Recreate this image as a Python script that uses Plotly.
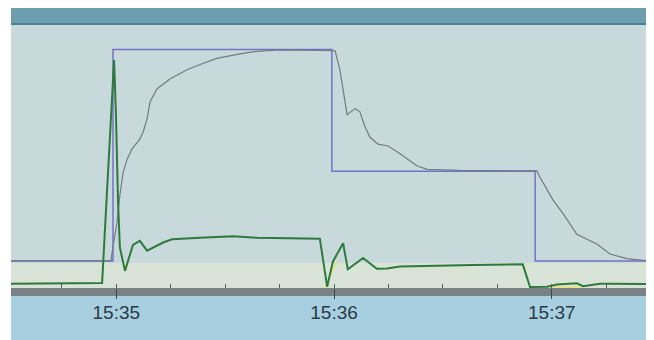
import plotly.graph_objects as go

DAY = "2024-01-01 "

# Setpoint (blue step line)
sp_times = ["15:34:31.0", "15:34:59.1", "15:35:59.4", "15:36:55.4", "15:37:26.5"]
sp_vals = [10.3, 90.7, 44.4, 10.3, 10.3]

# Process value (gray line)
pv_times = ["15:34:31.0", "15:34:58.5", "15:35:00.2", "15:35:01.0", "15:35:01.9", "15:35:03.0",
            "15:35:04.3", "15:35:06.5", "15:35:07.4", "15:35:08.5", "15:35:09.3", "15:35:11.2",
            "15:35:14.8", "15:35:19.5", "15:35:23.1", "15:35:27.7", "15:35:34.1", "15:35:38.8",
            "15:35:45.1", "15:36:00.3", "15:36:01.6", "15:36:02.5", "15:36:03.6", "15:36:05.8",
            "15:36:07.1", "15:36:08.5", "15:36:09.9", "15:36:12.1", "15:36:14.9", "15:36:18.2",
            "15:36:22.8", "15:36:25.6", "15:36:34.7", "15:36:55.9", "15:36:56.7", "15:37:00.3",
            "15:37:03.1", "15:37:06.9", "15:37:09.7", "15:37:12.4", "15:37:16.0", "15:37:20.7",
            "15:37:25.1", "15:37:26.5"]
pv_vals = [10.3, 10.3, 25.0, 35.3, 44.0, 49.0,
           52.8, 56.6, 59.3, 64.3, 70.7, 75.7,
           79.5, 83.0, 85.0, 87.3, 89.0, 90.0,
           90.5, 90.2, 83.0, 75.4, 65.9, 68.2,
           67.1, 61.4, 57.3, 54.7, 54.0, 51.0,
           46.5, 45.1, 44.7, 44.5, 42.2, 33.5,
           28.3, 20.4, 18.5, 16.7, 12.9, 11.2,
           10.5, 10.3]

# Output (green line)
out_times = ["15:34:31.0", "15:34:44.5", "15:34:56.1", "15:34:59.4", "15:34:59.9", "15:35:00.5",
             "15:35:01.0", "15:35:02.4", "15:35:04.6", "15:35:06.5",
             "15:35:08.5", "15:35:12.9", "15:35:15.4", "15:35:23.1", "15:35:32.2", "15:35:38.8",
             "15:35:56.1", "15:35:58.1", "15:35:59.7", "15:36:02.5", "15:36:03.8", "15:36:08.0",
             "15:36:11.8", "15:36:14.6", "15:36:18.2", "15:36:38.3", "15:36:52.0", "15:36:54.0",
             "15:36:58.7", "15:37:01.4", "15:37:04.2", "15:37:06.9", "15:37:08.6", "15:37:13.3",
             "15:37:16.0", "15:37:26.5"]
out_vals = [1.6, 1.8, 1.9, 86.7, 66.6, 32.4,
            15.4, 6.5, 16.4, 17.9,
            14.2, 17.3, 18.5, 19.1, 19.7, 19.1,
            18.7, 0.5, 10.1, 17.0, 7.1, 11.4,
            7.3, 7.4, 8.2, 8.7, 9.0, 0.4,
            0.5, 1.3, 1.7, 1.8, 0.7, 1.6,
            1.6, 1.5]

# Faint yellow series
yel_times = ["15:35:57.5", "15:36:00.8", "15:36:01.0", "15:36:57.0", "15:37:08.0"]
yel_vals = [0.3, 10.1, None, 0.4, 0.4]

tick_vals = ["15:35:00", "15:36:00", "15:37:00"]
tick_text = ["15:35", "15:36", "15:37"]


def ts(lst):
    return [DAY + t for t in lst]


fig = go.Figure()
fig.add_trace(go.Scatter(x=ts(yel_times), y=yel_vals, mode="lines",
                         line=dict(color="#e6e67a", width=1.6), connectgaps=False))
fig.add_trace(go.Scatter(x=ts(sp_times), y=sp_vals, mode="lines", line_shape="hv",
                         line=dict(color="#7273c6", width=1.5)))
fig.add_trace(go.Scatter(x=ts(pv_times), y=pv_vals, mode="lines",
                         line=dict(color="#737a82", width=1.2)))
fig.add_trace(go.Scatter(x=ts(out_times), y=out_vals, mode="lines",
                         line=dict(color="#2e7a3c", width=2)))

H = 263.0
shapes = [
    # light lower band inside plot
    dict(type="rect", xref="paper", yref="y", x0=0, x1=1, y0=0, y1=9.5,
         fillcolor="#d9e3d7", line_width=0, layer="below"),
    # teal top band
    dict(type="rect", xref="paper", yref="paper", x0=0, x1=1, y0=1 + 2 / H, y1=1 + 18 / H,
         fillcolor="#6c9eb0", line_width=0, layer="below"),
    dict(type="rect", xref="paper", yref="paper", x0=0, x1=1, y0=1, y1=1 + 2 / H,
         fillcolor="#50808f", line_width=0, layer="below"),
    # dark axis band
    dict(type="rect", xref="paper", yref="paper", x0=0, x1=1, y0=-8 / H, y1=0,
         fillcolor="#7b8287", line_width=0, layer="below"),
    # light blue area below axis
    dict(type="rect", xref="paper", yref="paper", x0=0, x1=1, y0=-52 / H, y1=-8 / H,
         fillcolor="#a8cfdf", line_width=0, layer="below"),
]

fig.update_layout(
    width=646, height=332,
    margin=dict(l=3, r=6, t=17, b=52, pad=0),
    paper_bgcolor="#ffffff",
    plot_bgcolor="#c8d9dc",
    showlegend=False,
    shapes=shapes,
    font=dict(family="Liberation Sans, Arial, sans-serif", size=19, color="#293a48"),
    xaxis=dict(
        type="date",
        range=[DAY + "15:34:31", DAY + "15:37:26.5"],
        tickvals=ts(tick_vals), ticktext=tick_text,
        ticks="outside", ticklen=10, tickwidth=1, tickcolor="#3a4650",
        ticklabelstandoff=-3,
        showgrid=False, zeroline=False, showline=False,
        minor=dict(dtick=15000, tick0=DAY + "15:35:00", ticks="inside",
                   ticklen=4, tickwidth=1, tickcolor="#56616b", showgrid=False),
    ),
    yaxis=dict(range=[0, 100], visible=False, fixedrange=True),
)

fig.write_html("out.html")
